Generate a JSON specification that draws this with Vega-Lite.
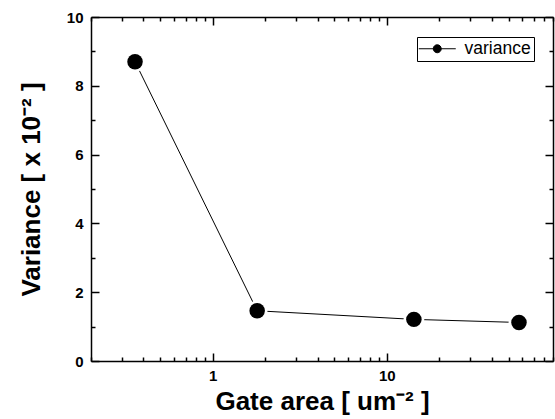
{
  "$schema": "https://vega.github.io/schema/vega-lite/v6.json",
  "width": 462,
  "height": 344,
  "autosize": {"type": "none"},
  "padding": {"left": 91, "top": 17, "right": 2, "bottom": 58},
  "background": "white",
  "config": {
    "view": {"stroke": null},
    "font": "Liberation Sans",
    "axis": {
      "domainColor": "black",
      "domainWidth": 1.5,
      "tickColor": "black",
      "tickWidth": 1.5,
      "grid": false,
      "labelFont": "Liberation Sans",
      "labelFontWeight": "bold",
      "labelFontSize": 15,
      "labelColor": "black",
      "titleFont": "Liberation Sans",
      "titleFontWeight": "bold",
      "titleFontSize": 26,
      "titleColor": "black"
    }
  },
  "data": {
    "values": [
      {"area": 0.358, "variance": 8.70},
      {"area": 1.80, "variance": 1.46},
      {"area": 14.3, "variance": 1.21},
      {"area": 57.4, "variance": 1.12}
    ]
  },
  "resolve": {"axis": {"x": "independent", "y": "independent"}},
  "layer": [
    {
      "mark": {"type": "line", "color": "black", "strokeWidth": 1},
      "encoding": {
        "x": {
          "field": "area", "type": "quantitative",
          "scale": {"type": "log", "domain": [0.2, 90], "nice": false},
          "axis": {
            "orient": "bottom",
            "values": [0.2,0.3,0.4,0.5,0.6,0.7,0.8,0.9,1,2,3,4,5,6,7,8,9,10,20,30,40,50,60,70,80,90],
            "labelExpr": "datum.value == 1 || datum.value == 10 ? datum.label : ''",
            "tickSize": {"condition": {"test": "datum.value == 1 || datum.value == 10", "value": -8}, "value": -4},
            "labelPadding": 15,
            "labelFlush": false,
            "labelOverlap": false,
            "title": "Gate area [ um⁻² ]",
            "titleY": 48,
            "titleBaseline": "alphabetic"
          }
        },
        "y": {
          "field": "variance", "type": "quantitative",
          "scale": {"domain": [0, 10], "nice": false, "zero": true},
          "axis": {
            "orient": "left",
            "values": [0,1,2,3,4,5,6,7,8,9,10],
            "labelExpr": "datum.value % 2 == 0 ? datum.label : ''",
            "tickSize": {"condition": {"test": "datum.value % 2 == 0", "value": -8}, "value": -4},
            "labelPadding": 16,
            "labelFlush": false,
            "labelOverlap": false,
            "title": "Variance [ x 10⁻² ]",
            "titleX": -60,
            "titleBaseline": "middle"
          }
        }
      }
    },
    {
      "mark": {"type": "point", "filled": true, "color": "white", "opacity": 1, "size": 434},
      "encoding": {
        "x": {"field": "area", "type": "quantitative", "axis": null},
        "y": {"field": "variance", "type": "quantitative", "axis": null}
      }
    },
    {
      "mark": {"type": "point", "filled": true, "opacity": 1, "size": 240},
      "encoding": {
        "x": {
          "field": "area", "type": "quantitative",
          "axis": {
            "orient": "top",
            "values": [0.2,0.3,0.4,0.5,0.6,0.7,0.8,0.9,1,2,3,4,5,6,7,8,9,10,20,30,40,50,60,70,80,90],
            "labels": false,
            "title": null,
            "tickSize": {"condition": {"test": "datum.value == 1 || datum.value == 10", "value": -8}, "value": -4}
          }
        },
        "y": {
          "field": "variance", "type": "quantitative",
          "axis": {
            "orient": "right",
            "values": [0,1,2,3,4,5,6,7,8,9,10],
            "labels": false,
            "title": null,
            "tickSize": {"condition": {"test": "datum.value % 2 == 0", "value": -8}, "value": -4}
          }
        },
        "color": {
          "datum": "variance",
          "scale": {"range": ["black"]},
          "legend": {
            "title": null,
            "orient": "none",
            "legendX": 326,
            "legendY": 20,
            "strokeColor": "black",
            "fillColor": "white",
            "padding": 3,
            "symbolType": "M-1.25,0H3.375M1.5625,0A0.5,0.5,0,1,1,0.5625,0A0.5,0.5,0,1,1,1.5625,0Z",
            "symbolSize": 256,
            "symbolFillColor": "black",
            "symbolStrokeColor": "black",
            "symbolStrokeWidth": 1,
            "labelOffset": 27,
            "labelFont": "Liberation Sans",
            "labelFontSize": 17.5,
            "labelColor": "black",
            "labelFontWeight": "normal"
          }
        }
      }
    }
  ]
}
